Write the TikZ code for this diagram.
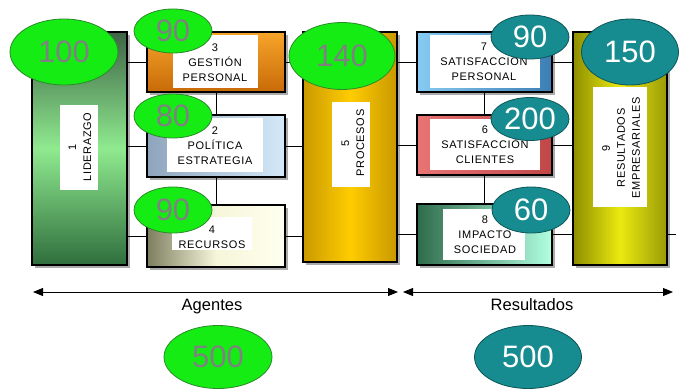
\documentclass[tikz,border=0pt]{standalone}
\usepackage{fontspec}
\setmainfont{Liberation Sans}
\newfontfamily\lblfont[LetterSpace=6]{Liberation Sans}
\usetikzlibrary{shapes.geometric,shadows,arrows.meta}

\definecolor{gfill}{HTML}{14EC14}
\definecolor{gline}{HTML}{2A8A2A}
\definecolor{gtext}{HTML}{808080}
\definecolor{tfill}{HTML}{178C90}
\definecolor{tline}{HTML}{0C5558}
\definecolor{c1top}{HTML}{3E6446}
\definecolor{c1mid}{HTML}{8FEA8F}
\definecolor{c1bot}{HTML}{2F6E3D}
\definecolor{c3top}{HTML}{F7A52A}
\definecolor{c3bot}{HTML}{C86A08}
\definecolor{c2l}{HTML}{8EA4BC}
\definecolor{c2r}{HTML}{D4EAF9}
\definecolor{c4l}{HTML}{7D7D60}
\definecolor{c4m}{HTML}{F6F6DA}
\definecolor{c4r}{HTML}{FFFFF0}
\definecolor{c5l}{HTML}{C99A00}
\definecolor{c5m}{HTML}{FFCC00}
\definecolor{c5r}{HTML}{C89800}
\definecolor{c7l}{HTML}{86CBF2}
\definecolor{c7r}{HTML}{3C7EB4}
\definecolor{c6l}{HTML}{E87474}
\definecolor{c6r}{HTML}{C14747}
\definecolor{c8l}{HTML}{2E6B4B}
\definecolor{c8r}{HTML}{B2FFE2}
\definecolor{c9l}{HTML}{8E8E00}
\definecolor{c9m}{HTML}{EAEA10}
\definecolor{c9r}{HTML}{9A9A08}

\begin{document}
\begin{tikzpicture}[x=1pt,y=-1pt,
  box/.style={draw=black, line width=1.2pt, inner sep=0pt,
    drop shadow={shadow xshift=3pt, shadow yshift=-3pt, fill=black!60, opacity=0.55}},
  wbox/.style={fill=white, inner sep=0pt},
  txt/.style={font=\lblfont\fontsize{11}{15}\selectfont, align=center, inner sep=0pt},
  gell/.style={ellipse, fill=gfill, draw=gline, line width=0.8pt, inner sep=0pt,
    text=gtext, font=\fontsize{31}{31}\selectfont},
  tell/.style={ellipse, fill=tfill, draw=tline, line width=0.8pt, inner sep=0pt,
    text=white, font=\fontsize{31}{31}\selectfont},
  conn/.style={draw=black, line width=0.8pt},
  arrline/.style={draw=black, line width=0.9pt, {Triangle[length=10pt,width=8pt]}-{Triangle[length=10pt,width=8pt]}},
  sect/.style={font=\fontsize{16.5}{18}\selectfont, anchor=base, inner sep=0pt},
  ]
\useasboundingbox[fill=white] (0,0) rectangle (679,389);

% boxes
\node[box, minimum width=95pt, minimum height=233pt, top color=c1top, bottom color=c1bot, middle color=c1mid] (b1) at (79.5,148.5) {};
\node[box, minimum width=138pt, minimum height=60pt, top color=c3top, bottom color=c3bot] (b3) at (216,62) {};
\node[box, minimum width=138pt, minimum height=62pt, left color=c2l, right color=c2r] (b2) at (216,146) {};
\node[box, minimum width=138pt, minimum height=62pt, left color=c4l, right color=c4r, middle color=c4m] (b4) at (216,236) {};
\node[box, minimum width=94pt, minimum height=230pt, left color=c5l, right color=c5r, middle color=c5m] (b5) at (350,147) {};
\node[box, minimum width=135pt, minimum height=60pt, left color=c7l, right color=c7r] (b7) at (484.5,62) {};
\node[box, minimum width=135pt, minimum height=60pt, left color=c6l, right color=c6r] (b6) at (484.5,145) {};
\node[box, minimum width=135pt, minimum height=61pt, left color=c8l, right color=c8r] (b8) at (484.5,234.5) {};
\node[box, minimum width=94pt, minimum height=233pt, left color=c9l, right color=c9r, middle color=c9m] (b9) at (620,148.5) {};

% white label panels
\node[wbox, minimum width=38pt, minimum height=85pt] (w1) at (79,147.5) {};
\node[wbox, minimum width=85pt, minimum height=53pt] (w3) at (215.5,61.5) {};
\node[wbox, minimum width=96pt, minimum height=54pt] (w2) at (215,145) {};
\node[wbox, minimum width=80pt, minimum height=33pt] (w4) at (212,233.5) {};
\node[wbox, minimum width=38pt, minimum height=85pt] (w5) at (351,144.5) {};
\node[wbox, minimum width=110pt, minimum height=53pt] (w7) at (485,61.5) {};
\node[wbox, minimum width=110pt, minimum height=51pt] (w6) at (485,144.5) {};
\node[wbox, minimum width=82pt, minimum height=51pt] (w8) at (484,234.5) {};
\node[wbox, minimum width=54pt, minimum height=120pt] (w9) at (620,147) {};

% texts
\node[txt, rotate=90] (t1) at (80,147) {1\\LIDERAZGO};
\node[txt] (t3) at (215,63) {3\\GESTIÓN\\PERSONAL};
\node[txt] (t2) at (215,146) {2\\POLÍTICA\\ESTRATEGIA};
\node[txt] (t4) at (212,237) {4\\RECURSOS};
\node[txt, rotate=90] (t5) at (353,143) {5\\PROCESOS};
\node[txt] (t7) at (484,62) {7\\SATISFACCIÓN\\PERSONAL};
\node[txt] (t6) at (485,145) {6\\SATISFACCIÓN\\CLIENTES};
\node[txt] (t8) at (485,235) {8\\IMPACTO\\SOCIEDAD};
\node[txt, rotate=90] (t9) at (621,148) {9\\RESULTADOS\\EMPRESARIALES};

% connectors
\draw[conn] (b1.east |- b3.west) -- (b3.west);
\draw[conn] (b1.east |- b2.west) -- (b2.west);
\draw[conn] (b1.east |- b4.west) -- (b4.west);
\draw[conn] (b3.east) -- (b3.east -| b5.west);
\draw[conn] (b2.east) -- (b2.east -| b5.west);
\draw[conn] (b4.east) -- (b4.east -| b5.west);
\draw[conn] (b3.south) -- (b2.north);
\draw[conn] (b2.south) -- (b4.north);
\draw[conn] (b5.east |- b7.west) -- (b7.west);
\draw[conn] (b5.east |- b6.west) -- (b6.west);
\draw[conn] (b5.east |- b8.west) -- (b8.west);
\draw[conn] (b7.east) -- (b7.east -| b9.west);
\draw[conn] (b6.east) -- (b6.east -| b9.west);
\draw[conn] (b8.east) -- (b8.east -| b9.west);
\draw[conn] (b7.south) -- (b6.north);
\draw[conn] (b6.south) -- (b8.north);
\coordinate (stub) at (676,234.5);
\draw[conn] (b9.east |- stub) -- (stub);

% score ellipses
\node[gell, minimum width=108pt, minimum height=66pt] (e1) at (64,52) {100};
\node[gell, minimum width=78pt, minimum height=44pt] (e3) at (173,31) {90};
\node[gell, minimum width=78pt, minimum height=44pt] (e2) at (173,116) {80};
\node[gell, minimum width=78pt, minimum height=46pt] (e4) at (173,210) {90};
\node[gell, minimum width=106pt, minimum height=67pt] (e5) at (342,56) {140};
\node[tell, minimum width=78pt, minimum height=44pt] (e7) at (530,37) {90};
\node[tell, minimum width=78pt, minimum height=43pt] (e6) at (530,119) {200};
\node[tell, minimum width=78pt, minimum height=46pt] (e8) at (531,210) {60};
\node[tell, minimum width=97pt, minimum height=66pt] (e9) at (630,52) {150};

% bottom arrows and labels
\coordinate (aL) at (33,292);
\coordinate (aM1) at (398,292);
\coordinate (aM2) at (403,292);
\coordinate (aR) at (673,292);
\draw[arrline] (aL) -- (aM1);
\draw[arrline] (aM2) -- (aR);
\node[sect] (ag) at (212,310) {Agentes};
\node[sect] (rs) at (532,310) {Resultados};
\node[gell, minimum width=108pt, minimum height=63pt] (eA) at (218,357) {500};
\node[tell, minimum width=107pt, minimum height=63pt] (eR) at (528,357) {500};
\end{tikzpicture}
\end{document}
